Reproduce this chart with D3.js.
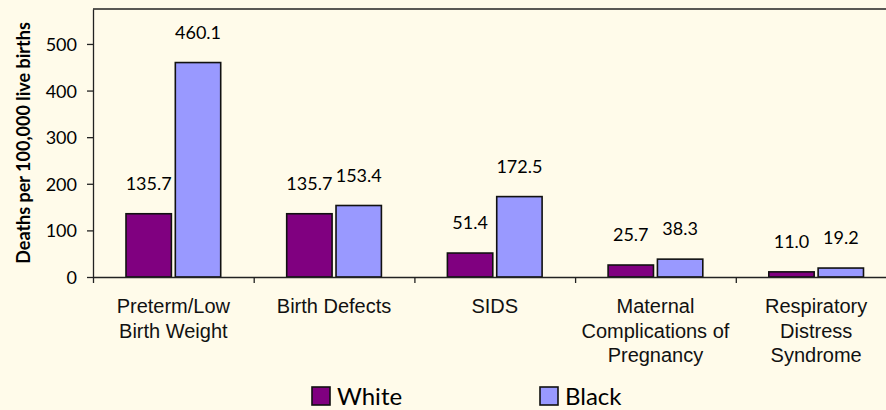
<!DOCTYPE html>
<html>
<head>
<meta charset="utf-8">
<script src="https://cdn.jsdelivr.net/npm/d3@7"></script>
<style>
  html, body { margin: 0; padding: 0; background: #FFFBEA; }
  svg { display: block; }
  .tick text { font-family: Lato, sans-serif; font-size: 18px; fill: #000; }
  .catLabel { font-family: "Liberation Sans", Arial, sans-serif; font-size: 20px; fill: #111; }
  .valLabel { font-family: Lato, sans-serif; font-size: 18px; fill: #000; }
  .legendText { font-family: Lato, sans-serif; font-size: 24px; fill: #000; }
  .yTitle { font-family: Lato, sans-serif; font-size: 18px; font-weight: bold; fill: #000; }
</style>
</head>
<body>
<svg id="chart"></svg>
<script>
// categories (line breaks as in the picture)
var categories = ["Preterm/Low\nBirth Weight", "Birth Defects", "SIDS",
                  "Maternal\nComplications of\nPregnancy", "Respiratory\nDistress\nSyndrome"];
var seriesNames = ["White", "Black"];
var whiteValues = [135.7, 135.7, 51.4, 25.7, 11.0];
var blackValues = [460.1, 153.4, 172.5, 38.3, 19.2];
var yTicks = [0, 100, 200, 300, 400, 500];
var seriesColors = ["#800080", "#9999FF"];

var screen = {width: 886, height: 410};
var margins = {left: 93, top: 9};
var plot = {bottom: 277, right: 896.5};

var svg = d3.select("#chart")
    .attr("width", screen.width)
    .attr("height", screen.height);

svg.append("rect")
    .attr("width", screen.width)
    .attr("height", screen.height)
    .attr("fill", "#FFFBEA");

// rows of data built from the arrays
var rows = categories.map(function(c, i) {
    return {cat: c, values: [whiteValues[i], blackValues[i]]};
});

var xScale = d3.scaleBand()
    .domain(categories)
    .range([margins.left, plot.right])
    .paddingInner(0)
    .paddingOuter(0);

var bw = xScale.bandwidth();
var inner = d3.scaleBand()
    .domain(seriesNames)
    .range([33, bw - 33])
    .paddingInner(0.08);

var yScale = d3.scaleLinear()
    .domain([0, 575])
    .range([plot.bottom, margins.top]);

// frame top line
svg.append("line")
    .attr("x1", margins.left).attr("x2", screen.width)
    .attr("y1", margins.top).attr("y2", margins.top)
    .attr("stroke", "#222").attr("stroke-width", 1.5);

// y axis
var yAxis = d3.axisLeft(yScale)
    .tickValues(yTicks)
    .tickSize(6)
    .tickSizeOuter(0)
    .tickPadding(10);

var yG = svg.append("g")
    .attr("transform", "translate(" + margins.left + ",0)")
    .call(yAxis);
yG.select(".domain").attr("stroke", "#222").attr("stroke-width", 1.3);
yG.selectAll(".tick line").attr("stroke", "#222").attr("stroke-width", 1.3);
yG.selectAll(".tick text").attr("dy", "0.36em");

// bars
var groups = svg.append("g")
    .selectAll("g")
    .data(rows)
    .enter()
    .append("g")
    .attr("transform", function(d) { return "translate(" + xScale(d.cat) + ",0)"; });

groups.selectAll("rect")
    .data(function(d) { return d.values.map(function(v, j) { return {name: seriesNames[j], v: v, j: j}; }); })
    .enter()
    .append("rect")
    .attr("x", function(d) { return inner(d.name); })
    .attr("width", inner.bandwidth())
    .attr("y", function(d) { return yScale(d.v); })
    .attr("height", function(d) { return yScale(0) - yScale(d.v); })
    .attr("fill", function(d) { return seriesColors[d.j]; })
    .attr("stroke", "#111")
    .attr("stroke-width", 1.6);

groups.selectAll(".valLabel")
    .data(function(d) { return d.values.map(function(v, j) { return {name: seriesNames[j], v: v}; }); })
    .enter()
    .append("text")
    .classed("valLabel", true)
    .attr("text-anchor", "middle")
    .attr("x", function(d) { return inner(d.name) + inner.bandwidth() / 2; })
    .attr("y", function(d) { return yScale(d.v) - 24; })
    .text(function(d) { return d.v.toFixed(1); });

// x axis with ticks on category boundaries
var xIdx = d3.scaleLinear()
    .domain([0, categories.length])
    .range([margins.left, plot.right]);

var xAxis = d3.axisBottom(xIdx)
    .tickValues(d3.range(categories.length + 1))
    .tickFormat("")
    .tickSize(6)
    .tickSizeOuter(0);

var xG = svg.append("g")
    .attr("transform", "translate(0," + plot.bottom + ")")
    .call(xAxis);
xG.select(".domain").attr("stroke", "#222").attr("stroke-width", 1.3);
xG.selectAll(".tick line").attr("stroke", "#222").attr("stroke-width", 1.3);

// category labels
var catText = svg.append("g")
    .selectAll("text")
    .data(categories)
    .enter()
    .append("text")
    .classed("catLabel", true)
    .attr("text-anchor", "middle")
    .attr("x", function(d) { return xScale(d) + bw / 2; })
    .attr("y", 313);

catText.selectAll("tspan")
    .data(function(d) { return d.split("\n"); })
    .enter()
    .append("tspan")
    .attr("x", function() { return d3.select(this.parentNode).attr("x"); })
    .attr("dy", function(d, i) { return i === 0 ? 0 : 24.5; })
    .text(function(d) { return d; });

// y title
svg.append("text")
    .classed("yTitle", true)
    .attr("text-anchor", "middle")
    .attr("transform", "translate(30," + ((margins.top + plot.bottom) / 2) + ") rotate(-90)")
    .text("Deaths per 100,000 live births");

// legend
var legend = svg.append("g")
    .selectAll("g")
    .data(seriesNames)
    .enter()
    .append("g")
    .attr("transform", function(d, i) { return "translate(" + (312 + i * 228) + ",387)"; });

legend.append("rect")
    .attr("width", 18)
    .attr("height", 18)
    .attr("fill", function(d, i) { return seriesColors[i]; })
    .attr("stroke", "#111")
    .attr("stroke-width", 1.6);

legend.append("text")
    .classed("legendText", true)
    .attr("x", 25)
    .attr("y", 18)
    .text(function(d) { return d; });
</script>
</body>
</html>
